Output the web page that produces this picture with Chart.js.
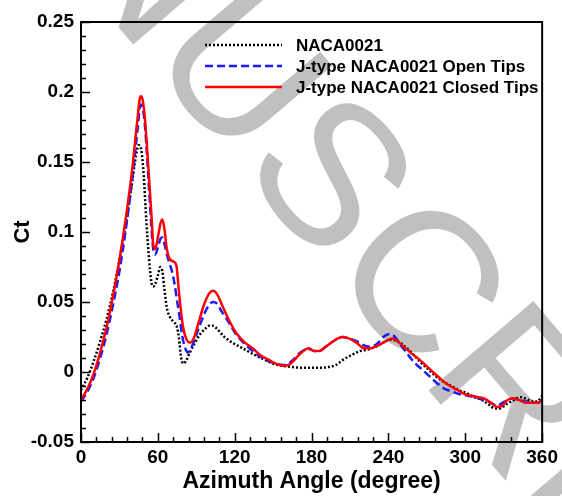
<!DOCTYPE html>
<html>
<head>
<meta charset="utf-8">
<script src="https://cdn.jsdelivr.net/npm/chart.js@4.4.0/dist/chart.umd.min.js"></script>
<style>
  html, body { margin: 0; padding: 0; background: #fff; }
</style>
</head>
<body>
<canvas id="chart" width="562" height="496"></canvas>
<script>
// series values
const nacaAngle = [0, 5, 10, 15, 20, 25, 30, 35, 40, 43, 45, 47, 49, 51, 53, 55, 56.5, 58, 60, 62, 63.5, 65, 67, 69, 72, 75, 76.5, 78, 80, 82, 85, 89, 93, 97, 100, 103, 107, 112, 118, 124, 130, 136, 143, 150, 157, 165, 175, 185, 193, 199, 205, 211, 218, 224, 230, 236, 242, 247, 253, 259, 265, 271, 277, 283, 289, 295, 301, 307, 313, 318, 323, 327, 332, 338, 343, 347, 352, 356, 360];
const nacaCt = [-0.013, -0.004, 0.008, 0.022, 0.038, 0.057, 0.080, 0.106, 0.136, 0.155, 0.162, 0.159, 0.140, 0.108, 0.082, 0.064, 0.061, 0.063, 0.069, 0.075, 0.072, 0.060, 0.046, 0.040, 0.036, 0.032, 0.024, 0.011, 0.006, 0.008, 0.014, 0.021, 0.027, 0.031, 0.033, 0.033, 0.030, 0.025, 0.021, 0.018, 0.015, 0.012, 0.009, 0.006, 0.0045, 0.0035, 0.003, 0.003, 0.0035, 0.005, 0.009, 0.012, 0.015, 0.016, 0.018, 0.021, 0.023, 0.022, 0.018, 0.013, 0.007, 0.002, -0.003, -0.007, -0.010, -0.013, -0.015, -0.018, -0.020, -0.023, -0.026, -0.026, -0.023, -0.020, -0.018, -0.019, -0.021, -0.021, -0.017];

const openAngle = [0, 5, 10, 15, 20, 25, 30, 35, 40, 44, 46.5, 48, 50, 52.5, 55, 56.5, 58, 60, 62, 63.5, 65, 67, 69, 71, 73, 75, 77, 79, 81, 83.5, 86, 89, 93, 97, 100, 103, 106, 110, 115, 121, 128, 134, 140, 146, 152, 158, 162, 166, 170, 175, 178, 182, 186, 191, 197, 204, 209, 215, 221, 226, 231, 236, 240, 244, 249, 254, 260, 266, 272, 278, 284, 290, 296, 302, 308, 314, 320, 325, 329, 333, 337, 342, 347, 352, 356, 360];
const openCt = [-0.021, -0.014, -0.004, 0.010, 0.027, 0.048, 0.072, 0.102, 0.138, 0.172, 0.191, 0.189, 0.175, 0.140, 0.103, 0.087, 0.084, 0.089, 0.095, 0.096, 0.092, 0.084, 0.078, 0.072, 0.063, 0.051, 0.039, 0.026, 0.018, 0.014, 0.017, 0.024, 0.034, 0.043, 0.048, 0.050, 0.049, 0.043, 0.036, 0.027, 0.020, 0.015, 0.011, 0.008, 0.006, 0.005, 0.006, 0.009, 0.013, 0.016, 0.0165, 0.015, 0.015, 0.018, 0.022, 0.025, 0.024, 0.022, 0.019, 0.018, 0.020, 0.025, 0.027, 0.026, 0.020, 0.014, 0.007, 0.002, -0.003, -0.008, -0.012, -0.014, -0.016, -0.017, -0.018, -0.020, -0.022, -0.024, -0.022, -0.020, -0.019, -0.020, -0.021, -0.022, -0.022, -0.021];

const closedAngle = [0, 5, 10, 15, 20, 25, 30, 35, 40, 44, 46.5, 48, 50, 52.5, 55, 56.5, 58, 60, 62, 63.5, 65, 67, 69, 72, 74.5, 76, 77.5, 79.5, 82, 85, 88, 92, 96, 100, 103, 106, 110, 115, 121, 128, 134, 140, 146, 152, 158, 162, 166, 170, 175, 178, 182, 186, 191, 197, 204, 209, 215, 221, 226, 232, 238, 243, 247, 252, 257, 264, 270, 276, 282, 288, 294, 300, 305, 310, 315, 320, 325, 329, 333, 337, 342, 347, 352, 356, 360];
const closedCt = [-0.020, -0.012, -0.001, 0.014, 0.032, 0.054, 0.080, 0.110, 0.145, 0.180, 0.197, 0.195, 0.180, 0.147, 0.112, 0.090, 0.088, 0.096, 0.106, 0.109, 0.103, 0.088, 0.081, 0.079, 0.076, 0.062, 0.048, 0.033, 0.024, 0.021, 0.024, 0.036, 0.048, 0.056, 0.058, 0.056, 0.048, 0.038, 0.028, 0.021, 0.017, 0.012, 0.009, 0.006, 0.0045, 0.005, 0.008, 0.012, 0.016, 0.017, 0.015, 0.015, 0.018, 0.022, 0.025, 0.024, 0.021, 0.017, 0.017, 0.019, 0.022, 0.024, 0.022, 0.018, 0.014, 0.009, 0.004, -0.001, -0.006, -0.010, -0.013, -0.016, -0.017, -0.018, -0.019, -0.022, -0.025, -0.024, -0.020, -0.019, -0.020, -0.022, -0.022, -0.022, -0.020];

const seriesNames = ['NACA0021', 'J-type NACA0021 Open Tips', 'J-type NACA0021 Closed Tips'];
const xTicks = [0, 60, 120, 180, 240, 300, 360];
const yTicks = [-0.05, 0, 0.05, 0.1, 0.15, 0.2, 0.25];
const watermarkText = 'ACCEPTED MANUSCRIPT';

const FONT = '"Liberation Sans", Arial, Helvetica, sans-serif';

function toPoints(xs, ys) {
  return xs.map((x, i) => ({ x: x, y: ys[i] }));
}

// big grey watermark behind everything
const watermark = {
  id: 'watermark',
  beforeDraw(chart) {
    const ctx = chart.ctx;
    ctx.save();
    ctx.font = '200px ' + FONT;
    ctx.fillStyle = '#c0c0c0';
    ctx.translate(418, 378);
    ctx.rotate(49.5 * Math.PI / 180);
    const pre = ctx.measureText('ACCEPTED MANUSC').width;
    ctx.fillText(watermarkText, -pre, 0);
    ctx.restore();
  }
};

// closed frame with inward major/minor ticks on left and bottom
const frameTicks = {
  id: 'frameTicks',
  afterDraw(chart) {
    const ctx = chart.ctx;
    const { left, right, top, bottom } = chart.chartArea;
    const xs = chart.scales.x, ys = chart.scales.y;
    ctx.save();
    ctx.strokeStyle = '#000';
    ctx.lineWidth = 1.5;
    ctx.beginPath();
    for (let v = 0; v <= 360; v += 12) {
      const px = Math.round(xs.getPixelForValue(v)) + 0.5;
      const len = v % 60 === 0 ? 9 : 5;
      ctx.moveTo(px, bottom);
      ctx.lineTo(px, bottom - len);
    }
    for (let k = -5; k <= 25; k++) {
      const py = Math.round(ys.getPixelForValue(k / 100)) + 0.5;
      const len = k % 5 === 0 ? 9 : 5;
      ctx.moveTo(left, py);
      ctx.lineTo(left + len, py);
    }
    ctx.stroke();
    ctx.lineWidth = 2;
    ctx.strokeRect(left, top, right - left, bottom - top);
    ctx.restore();
  }
};

// legend drawn inside the plot, top right
const insideLegend = {
  id: 'insideLegend',
  afterDraw(chart) {
    const ctx = chart.ctx;
    ctx.save();
    ctx.font = 'bold 17px ' + FONT;
    ctx.textBaseline = 'middle';
    chart.data.datasets.forEach((ds, i) => {
      const y = 45 + i * 21;
      ctx.strokeStyle = ds.borderColor;
      ctx.lineWidth = ds.borderWidth;
      ctx.setLineDash(ds.borderDash || []);
      ctx.beginPath();
      ctx.moveTo(205, y);
      ctx.lineTo(282, y);
      ctx.stroke();
      ctx.setLineDash([]);
      ctx.fillStyle = '#000';
      ctx.fillText(ds.label, 296, y + 1);
    });
    ctx.restore();
  }
};

new Chart(document.getElementById('chart'), {
  type: 'line',
  data: {
    datasets: [
      {
        label: seriesNames[0],
        data: toPoints(nacaAngle, nacaCt),
        borderColor: '#000000',
        borderWidth: 2.5,
        borderDash: [2, 2],
        order: 3
      },
      {
        label: seriesNames[1],
        data: toPoints(openAngle, openCt),
        borderColor: '#1a1aff',
        borderWidth: 2.5,
        borderDash: [8, 4],
        order: 2
      },
      {
        label: seriesNames[2],
        data: toPoints(closedAngle, closedCt),
        borderColor: '#ff0000',
        borderWidth: 2.5,
        order: 1
      }
    ]
  },
  options: {
    responsive: false,
    animation: false,
    devicePixelRatio: 1,
    cubicInterpolationMode: 'monotone',
    elements: { point: { radius: 0 } },
    layout: { padding: { top: 22, right: 12, left: 0, bottom: 0 } },
    plugins: { legend: { display: false }, tooltip: { enabled: false } },
    scales: {
      x: {
        type: 'linear',
        min: 0,
        max: 360,
        afterBuildTicks: s => { s.ticks = xTicks.map(v => ({ value: v })); },
        afterFit: s => { s.height = 54; },
        grid: { display: false, drawTicks: false },
        border: { display: false },
        ticks: {
          padding: 4,
          color: '#000',
          maxRotation: 0,
          font: { family: FONT, size: 19, weight: 'bold' },
          callback: v => String(v)
        },
        title: {
          display: true,
          text: 'Azimuth Angle (degree)',
          color: '#000',
          font: { family: FONT, size: 23, weight: 'bold' },
          padding: { top: 0, bottom: 1 }
        }
      },
      y: {
        type: 'linear',
        min: -0.05,
        max: 0.25,
        afterBuildTicks: s => { s.ticks = yTicks.map(v => ({ value: v })); },
        afterFit: s => { s.width = 81; },
        grid: { display: false, drawTicks: false },
        border: { display: false },
        ticks: {
          padding: 7,
          color: '#000',
          font: { family: FONT, size: 19, weight: 'bold' },
          callback: v => String(v)
        },
        title: {
          display: true,
          text: 'Ct',
          color: '#000',
          font: { family: FONT, size: 22, weight: 'bold' },
          padding: { top: 10, bottom: 0 }
        }
      }
    }
  },
  plugins: [watermark, frameTicks, insideLegend]
});
</script>
</body>
</html>
